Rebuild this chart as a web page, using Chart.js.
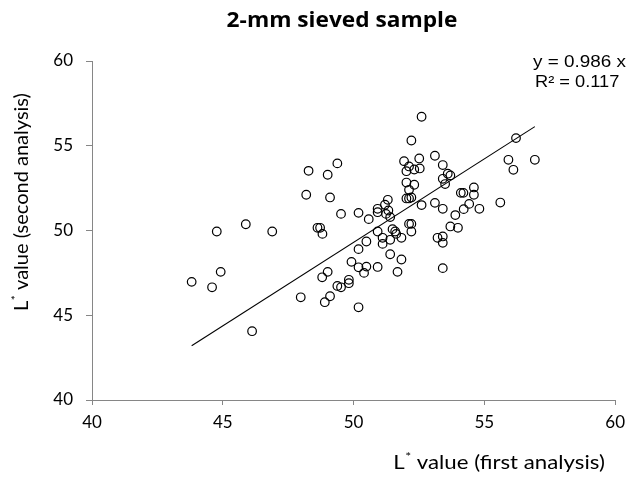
<!DOCTYPE html>
<html>
<head>
<meta charset="utf-8">
<script src="https://cdn.jsdelivr.net/npm/chart.js@4/dist/chart.umd.min.js"></script>
<style>
  html, body { margin: 0; padding: 0; background: #fff; }
  #wrap { width: 632px; height: 482px; position: relative; }
</style>
</head>
<body>
<div id="wrap"><canvas id="chart"></canvas></div>
<script>
// ---- data ----
const chartTitle = "2-mm sieved sample";
const xTitle = ["L", "*", " value (first analysis)"];
const yTitle = ["L", "*", " value (second analysis)"];
const eqLines = ["y = 0.986 x", "R\u00b2 = 0.117"];

const xTicks = [40, 45, 50, 55, 60];
const yTicks = [40, 45, 50, 55, 60];

// L* value, first analysis
const firstAnalysis = [
    52.60, 52.21, 56.21, 49.38, 48.28, 49.01, 48.19, 49.10, 49.52, 50.19,
    50.58, 45.88, 44.77, 46.89, 48.62, 48.72, 48.81, 44.92, 43.81, 44.59,
    46.12, 47.98, 48.90, 49.10, 48.80, 49.01, 49.38, 49.52, 49.82, 49.82,
    50.19, 49.92, 50.19, 50.19, 50.49, 50.40, 50.49, 50.92, 50.92, 51.11,
    51.11, 51.40, 51.40, 51.49, 51.59, 51.63, 51.68, 51.83, 51.83, 50.92,
    50.92, 51.20, 51.31, 51.24, 51.40, 51.33, 51.93, 52.12, 52.02, 52.32,
    52.51, 52.53, 52.02, 52.32, 52.12, 52.02, 52.12, 52.21, 52.60, 52.12,
    52.21, 52.21, 53.11, 53.41, 53.60, 53.70, 53.41, 53.50, 53.11, 53.41,
    53.89, 53.70, 53.99, 53.21, 53.41, 53.41, 53.41, 54.10, 54.20, 54.60,
    54.60, 54.42, 54.21, 54.81, 55.61, 55.92, 56.11, 56.93
];

// L* value, second analysis
const secondAnalysis = [
    56.71, 55.31, 55.45, 53.96, 53.52, 53.29, 52.11, 51.95, 50.98, 51.04,
    50.67, 50.37, 49.94, 49.94, 50.16, 50.16, 49.80, 47.56, 46.97, 46.65,
    44.06, 46.06, 45.77, 46.12, 47.24, 47.56, 46.73, 46.65, 47.09, 46.89,
    45.47, 48.15, 48.90, 47.83, 47.87, 47.50, 49.35, 47.85, 49.94, 49.57,
    49.21, 48.60, 49.45, 50.08, 49.94, 49.80, 47.56, 48.29, 49.57, 51.28,
    51.08, 51.52, 51.81, 50.98, 50.79, 51.18, 54.09, 53.78, 53.50, 53.60,
    54.25, 53.66, 52.83, 52.70, 52.40, 51.89, 51.89, 51.95, 51.50, 50.39,
    50.39, 49.94, 54.41, 53.86, 53.35, 53.25, 53.05, 52.74, 51.63, 51.28,
    50.91, 50.24, 50.16, 49.57, 49.65, 49.27, 47.78, 52.22, 52.22, 52.54,
    52.11, 51.57, 51.26, 51.28, 51.65, 54.17, 53.58, 54.17
];

// linear trendline through origin, ends at data extremes
const trendX = [43.81, 56.93];
const trendY = [43.20, 56.13];

// ---- chart ----
const AXIS_GREY = "#868686";
const TICK_FONT = { family: "Lato", size: 17 };

function drawSupLabel(ctx, parts, size) {
    // "L" + small raised "*" + rest, left-aligned at current origin
    ctx.font = size + "px Lato";
    ctx.fillText(parts[0], 0, 0);
    let w = ctx.measureText(parts[0]).width;
    ctx.font = Math.round(size * 0.62) + "px Lato";
    ctx.fillText(parts[1], w + 0.5, -size * 0.42);
    w += ctx.measureText(parts[1]).width + 0.5;
    ctx.font = size + "px Lato";
    ctx.fillText(parts[2], w, 0);
}

function labelWidth(ctx, parts, size) {
    ctx.font = size + "px Lato";
    let w = ctx.measureText(parts[0]).width + ctx.measureText(parts[2]).width;
    ctx.font = Math.round(size * 0.62) + "px Lato";
    return w + ctx.measureText(parts[1]).width + 0.5;
}

// text drawn a little wider than the font, as in the reference
function wideText(ctx, text, x, y, sx) {
    ctx.save();
    ctx.translate(x, y);
    ctx.scale(sx, 1);
    ctx.fillText(text, 0, 0);
    ctx.restore();
}

const textPlugin = {
    id: "texts",
    afterDraw(chart) {
        const ctx = chart.ctx;
        ctx.save();
        ctx.fillStyle = "#000";
        ctx.textBaseline = "alphabetic";

        // title
        ctx.font = "bold 21px 'Open Sans'";
        ctx.textAlign = "center";
        wideText(ctx, chartTitle, 342, 27, 1.08);

        // trendline equation
        ctx.font = "16px 'Liberation Sans'";
        ctx.textAlign = "left";
        wideText(ctx, eqLines[0], 533, 67, 1.18);
        wideText(ctx, eqLines[1], 535, 87, 1.14);

        // x axis title
        const xs = 19, xsx = 1.17;
        const xw = labelWidth(ctx, xTitle, xs) * xsx;
        ctx.save();
        ctx.translate(499 - xw / 2, 469);
        ctx.scale(xsx, 1);
        drawSupLabel(ctx, xTitle, xs);
        ctx.restore();

        // y axis title (rotated)
        const ys = 20;
        const yw = labelWidth(ctx, yTitle, ys);
        ctx.save();
        ctx.translate(28, 202 + yw / 2);
        ctx.rotate(-Math.PI / 2);
        drawSupLabel(ctx, yTitle, ys);
        ctx.restore();

        ctx.restore();
    }
};

const ctx = document.getElementById("chart").getContext("2d");
new Chart(ctx, {
    type: "scatter",
    data: {
        datasets: [
            {
                label: "L* value",
                data: firstAnalysis.map((x, i) => ({ x, y: secondAnalysis[i] })),
                pointStyle: "circle",
                pointRadius: 4.3,
                pointBorderWidth: 1.2,
                pointBorderColor: "#000",
                pointBackgroundColor: "rgba(0,0,0,0)",
                showLine: false
            },
            {
                label: "Linear trend",
                data: trendX.map((x, i) => ({ x, y: trendY[i] })),
                showLine: true,
                borderColor: "#000",
                borderWidth: 1.1,
                pointRadius: 0,
                fill: false
            }
        ]
    },
    options: {
        responsive: true,
        maintainAspectRatio: false,
        animation: false,
        layout: { padding: { top: 61, right: 13, left: 0, bottom: 0 } },
        plugins: {
            legend: { display: false },
            title: { display: false },
            tooltip: { enabled: false }
        },
        scales: {
            x: {
                type: "linear",
                min: xTicks[0],
                max: xTicks[xTicks.length - 1],
                afterBuildTicks: s => { s.ticks = xTicks.map(v => ({ value: v })); },
                afterFit: s => { s.height = 82; },
                ticks: { font: TICK_FONT, color: "#000", padding: 7, maxRotation: 0 },
                grid: { drawOnChartArea: false, drawTicks: true, tickLength: 5, color: AXIS_GREY },
                border: { display: true, color: AXIS_GREY, width: 1 }
            },
            y: {
                type: "linear",
                min: yTicks[0],
                max: yTicks[yTicks.length - 1],
                afterBuildTicks: s => { s.ticks = yTicks.map(v => ({ value: v })); },
                afterFit: s => { s.width = 92; },
                ticks: { font: TICK_FONT, color: "#000", padding: 13 },
                grid: { drawOnChartArea: false, drawTicks: true, tickLength: 6, color: AXIS_GREY },
                border: { display: true, color: AXIS_GREY, width: 1 }
            }
        }
    },
    plugins: [textPlugin]
});
</script>
</body>
</html>
